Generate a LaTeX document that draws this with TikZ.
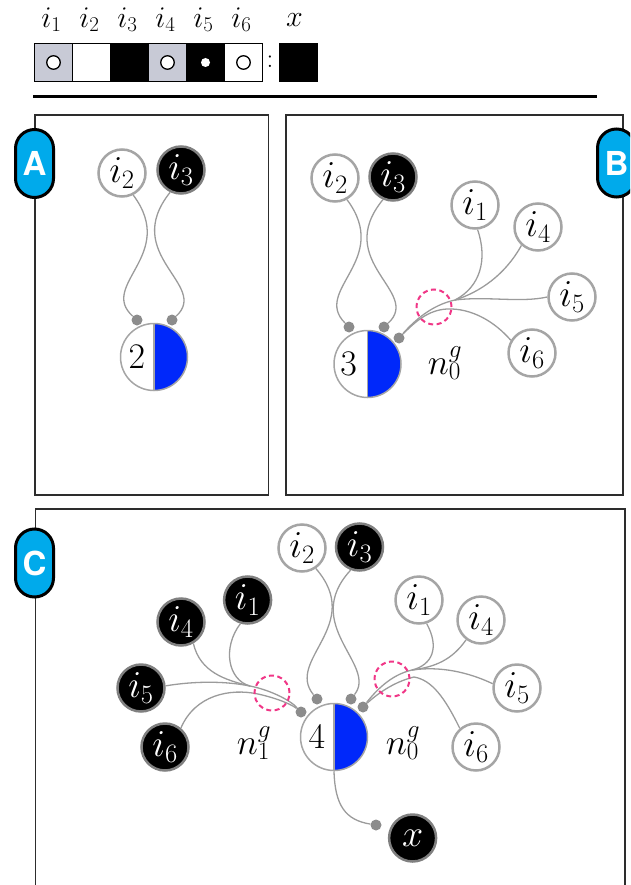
\RequirePackage{fix-cm}
\documentclass[tikz,border=0pt]{standalone}
\usepackage{fontspec}
\newfontfamily\pillfont{TeX Gyre Heros}
\usetikzlibrary{calc}
\definecolor{pillcyan}{RGB}{0,170,235}
\definecolor{halfblue}{RGB}{0,40,250}
\definecolor{ringpink}{RGB}{240,55,135}
\definecolor{cellgray}{RGB}{200,202,214}
\definecolor{nodegray}{RGB}{165,165,165}
\definecolor{wiregray}{RGB}{155,155,155}
\definecolor{dotgray}{RGB}{140,140,140}
\definecolor{boxgray}{RGB}{45,45,45}
\tikzset{
 inw/.style={circle, draw=nodegray, line width=2.5pt, fill=white, minimum size=47pt, inner sep=0pt, font=\fontsize{38}{40}\selectfont},
 inb/.style={inw, fill=black, text=white, draw=gray},
 core/.style={circle, draw=nodegray, line width=1.5pt, minimum size=67pt, inner sep=0pt, fill=white,
   path picture={\fill[halfblue] (path picture bounding box.north) rectangle (path picture bounding box.south east);
                 \draw[nodegray, line width=1.5pt] (path picture bounding box.north) -- (path picture bounding box.south);}},
 wire/.style={draw=wiregray, line width=1.3pt},
 pin/.style={circle, fill=dotgray, minimum size=11pt, inner sep=0pt},
 ring/.style={circle, draw=ringpink, line width=2pt, dash pattern=on 5pt off 3.5pt, minimum size=35pt, inner sep=0pt},
 pill/.style={rectangle, rounded corners=19pt, minimum width=38pt, minimum height=68pt, draw=black, line width=3pt, fill=pillcyan, text=white, font=\pillfont\bfseries\fontsize{33}{34}\selectfont, inner sep=0pt},
 lab/.style={font=\fontsize{36}{38}\selectfont, inner sep=0pt},
 hlab/.style={font=\fontsize{30}{32}\selectfont, inner sep=0pt, anchor=south},
 cell/.style={draw=black, line width=1.5pt, minimum size=38pt, inner sep=0pt},
 panel/.style={draw=boxgray, line width=1.5pt},
 hring/.style={circle, draw=black, line width=1.3pt, fill=white, minimum size=13.5pt, inner sep=0pt},
}
\begin{document}
\begin{tikzpicture}[x=1pt,y=-1pt]
\useasboundingbox (0,0) rectangle (630,885);
% ---------- header ----------
\node[cell, fill=cellgray] (h1) at (53.5,62.5) {};
\node[cell, fill=white] (h2) at (91.5,62.5) {};
\node[cell, fill=black] (h3) at (129.5,62.5) {};
\node[cell, fill=cellgray] (h4) at (167.5,62.5) {};
\node[cell, fill=black] (h5) at (205.5,62.5) {};
\node[cell, fill=white] (h6) at (243.5,62.5) {};
\node[cell, fill=black] (hx) at (298.5,62.5) {};
\node[hring] (hr1) at (h1) {};
\node[hring] (hr4) at (h4) {};
\node[hring] (hr6) at (h6) {};
\node[circle, fill=white, minimum size=9pt, inner sep=0pt] (hd5) at (h5) {};
\node[font=\fontsize{27}{28}\selectfont, inner sep=0pt] (colon) at (270,62) {:};
\node[hlab] (l1) at ([xshift=-2pt,yshift=11pt]h1.north) {$i_1$};
\node[hlab] (l2) at ([xshift=-2pt,yshift=11pt]h2.north) {$i_2$};
\node[hlab] (l3) at ([xshift=-2pt,yshift=11pt]h3.north) {$i_3$};
\node[hlab] (l4) at ([xshift=-2pt,yshift=11pt]h4.north) {$i_4$};
\node[hlab] (l5) at ([xshift=-2pt,yshift=11pt]h5.north) {$i_5$};
\node[hlab] (l6) at ([xshift=-2pt,yshift=11pt]h6.north) {$i_6$};
\node[hlab] (lx) at ([xshift=-4pt,yshift=16pt]hx.north) {$x$};
\draw[line width=3pt] (33,97) -- (597,97);
% ---------- panels ----------
\draw[panel] (35,115) rectangle (268.5,495);
\draw[panel] (286,115) rectangle (623,495);
\draw[panel] (35.5,890) -- (35.5,509) -- (625,509) -- (625,890);
\node[pill] (pa) at (34.5,163.5) {A};
\begin{scope}
\clip (0,0) rectangle (630,885);
\node[pill] (pb) at (616.5,163) {B};
\end{scope}
\node[pill] (pc) at (34.5,563) {C};
% ---------- panel A ----------
\node[inw] (a2) at (122,173) {$i_2$};
\node[inb] (a3) at (181,170) {$i_3$};
\node[core] (a0) at (154,357) {};
\node[lab] (a0t) at ([xshift=-17pt]a0.center) {$2$};
\node[pin] (ap1) at (137,320) {};
\node[pin] (ap2) at (172,320) {};
\draw[wire] (a2.-63) .. controls (178,255) and (98,285) .. (ap1);
\draw[wire] (a3.-116) .. controls (120,255) and (210,285) .. (ap2);
% ---------- panel B ----------
\node[inw] (b2) at (335,178) {$i_2$};
\node[inb] (b3) at (393,177) {$i_3$};
\node[inw] (b1) at (475,205) {$i_1$};
\node[inw] (b4) at (538,227) {$i_4$};
\node[inw] (b5) at (572,297) {$i_5$};
\node[inw] (b6) at (532,353) {$i_6$};
\node[core] (b0) at (367.5,364) {};
\node[lab] (b0t) at ([xshift=-19pt]b0.center) {$3$};
\node[lab] (bn) at (445,363) {$n^g_0$};
\node[pin] (bp1) at (349,327) {};
\node[pin] (bp2) at (384,327) {};
\node[pin] (bp3) at (399,338) {};
\coordinate (bj) at (455,300);
\draw[wire] (b2.-61) .. controls (392,260) and (312,290) .. (bp1);
\draw[wire] (b3.-114) .. controls (332,262) and (422,292) .. (bp2);
\draw[wire] (bp3) .. controls (415,320) and (432,305) .. (bj);
\draw[wire] (b1.-84) .. controls (488,260) and (480,287) .. (bj);
\draw[wire] (b4.-132) .. controls (505,275) and (480,292) .. (bj);
\draw[wire] (b5.180) .. controls (520,303) and (488,296) .. (bj);
\draw[wire] (bp3) .. controls (415,322) and (428,310) .. (447,309) .. controls (472,308) and (495,322) .. (b6.149);
\node[ring] (br) at (434,307) {};
% ---------- panel C ----------
\node[core] (c0) at (334,737) {};
\node[lab] (c0t) at ([xshift=-17pt]c0.center) {$4$};
\node[inw] (c2) at (302,548) {$i_2$};
\node[inb] (c3) at (359.5,547) {$i_3$};
\node[inb] (cl1) at (247.6,600) {$i_1$};
\node[inb] (cl4) at (181,622) {$i_4$};
\node[inb] (cl5) at (141,688) {$i_5$};
\node[inb] (cl6) at (165,747) {$i_6$};
\node[inw] (cr1) at (419,600) {$i_1$};
\node[inw] (cr4) at (481,620) {$i_4$};
\node[inw] (cr5) at (517,688) {$i_5$};
\node[inw] (cr6) at (476,747) {$i_6$};
\node[inb] (cx) at (412.6,838) {$x$};
\node[lab] (cn1) at (254,743) {$n^g_1$};
\node[lab] (cn0) at (403,743) {$n^g_0$};
\node[pin] (cpl) at (301,712) {};
\node[pin] (cp2) at (317,699) {};
\node[pin] (cp3) at (351,699) {};
\node[pin] (cpr) at (363,707) {};
\node[pin] (cpx) at (376,825) {};
\coordinate (cjl) at (250,686);
\coordinate (cjr) at (412,670);
% left bundle
\draw[wire] (cjl) .. controls (270,690) and (290,700) .. (cpl);
\draw[wire] (cl5.5) .. controls (195,681) and (225,681) .. (cjl);
\draw[wire] (cl4.-60) .. controls (200,672) and (225,680) .. (cjl);
\draw[wire] (cl1.-107) .. controls (222,648) and (228,680) .. (cjl);
\draw[wire] (cl6.50) .. controls (195,695) and (230,688) .. (258,694) .. controls (276,698) and (291,704) .. (cpl);
% centre
\draw[wire] (c2.-56) .. controls (365,625) and (285,660) .. (cp2);
\draw[wire] (c3.-111) .. controls (300,625) and (378,665) .. (cp3);
% right bundle
\draw[wire] (cpr) .. controls (375,692) and (390,675) .. (cjr);
\draw[wire] (cr1.-72) .. controls (440,648) and (432,665) .. (cjr);
\draw[wire] (cr4.-127) .. controls (452,660) and (435,667) .. (cjr);
\draw[wire] (cr5.170) .. controls (468,672) and (440,666) .. (cjr);
\draw[wire] (cr6.131) .. controls (445,698) and (432,680) .. (414,677) .. controls (393,682) and (376,695) .. (cpr);
% output
\draw[wire] (c0.-90) .. controls (335,805) and (345,820) .. (cpx);
\node[ring] (crl) at (272,693) {};
\node[ring] (crr) at (392,679) {};
\end{tikzpicture}
\end{document}
